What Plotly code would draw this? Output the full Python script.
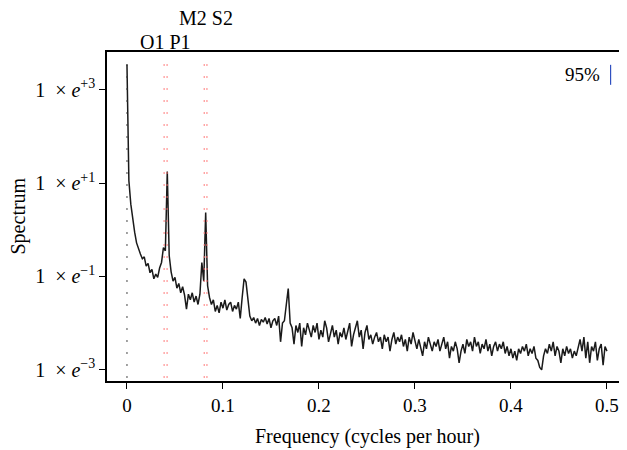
import numpy as np
import plotly.graph_objects as go

# frequency grid (cycles per hour)
freq = np.round(np.arange(0, 0.5001, 0.002), 4)

# log10 of spectrum values
log_spec = [
    3.54, 1.05, 0.55, 0.2, -0.05, -0.28, -0.42, -0.52, -0.62, -0.58,
    -0.78, -0.72, -0.92, -0.85, -1.05, -0.95, -1.02, -0.82, -0.7, -0.38,
    -0.45, 1.25, -0.55, -0.9, -1.1, -1.02, -1.25, -1.15, -1.35, -1.22,
    -1.4, -1.7, -1.38, -1.5, -1.35, -1.55, -1.42, -1.6, -1.38, -0.7,
    -1.1, 0.37, -1.2, -1.45, -1.6, -1.5, -1.75, -1.62, -1.78, -1.55,
    -1.68, -1.5, -1.72, -1.6, -1.55, -1.75, -1.62, -1.7, -1.55, -1.9,
    -1.45, -1.05, -1.12, -1.5, -1.85, -1.95, -1.88, -2.0, -1.9, -2.05,
    -1.92, -1.98, -1.88, -2.02, -1.9, -2.1, -1.95, -1.9, -2.05, -1.85,
    -2.4, -2.0, -1.95, -1.6, -1.26, -2.0, -2.1, -2.45, -2.05, -2.2,
    -2.0, -2.5, -2.1, -2.25, -2.0, -2.15, -2.3, -2.05, -2.2, -2.0,
    -2.35, -2.15, -2.3, -1.95, -2.1, -2.4, -2.2, -2.05, -2.3, -2.15,
    -2.45, -2.2, -2.3, -2.1, -2.35, -2.2, -2.0, -2.5, -2.25, -2.1,
    -1.95, -2.3, -2.15, -2.55, -2.2, -2.05, -2.35, -2.25, -2.45, -2.3,
    -2.2, -2.4, -2.3, -2.55, -2.25, -2.4, -2.3, -2.6, -2.35, -2.2,
    -2.45, -2.3, -2.4, -2.25, -2.5, -2.35, -2.6, -2.3, -2.45, -2.2,
    -2.4, -2.55, -2.35, -2.5, -2.7, -2.4, -2.55, -2.3, -2.45, -2.6,
    -2.4, -2.5, -2.35, -2.6, -2.45, -2.3, -2.55, -2.4, -2.75, -2.5,
    -2.6, -2.4, -2.55, -2.85, -2.6, -2.45, -2.65, -2.35, -2.5, -2.4,
    -2.6, -2.3, -2.5, -2.4, -2.65, -2.45, -2.55, -2.35, -2.6, -2.45,
    -2.7, -2.5, -2.4, -2.6, -2.45, -2.55, -2.4, -2.65, -2.5, -2.7,
    -2.55, -2.75, -2.6, -2.8, -2.55, -2.65, -2.5, -2.6, -2.45, -2.7,
    -2.55, -2.65, -2.5, -2.75, -2.8, -2.95, -3.0, -2.7, -2.55, -2.65,
    -2.45, -2.6, -2.4, -2.7, -2.5, -2.6, -2.85, -2.55, -2.7, -2.5,
    -2.65, -2.55, -2.75, -2.6, -2.7, -2.5, -2.35, -2.6, -2.3, -2.75,
    -2.4, -2.85, -2.5, -2.6, -2.4, -2.8, -2.55, -2.45, -2.9, -2.5,
    -2.6,
]
spectrum = [10 ** v for v in log_spec]

# tidal constituent frequencies (cph)
const_freq = [0.0387, 0.0418, 0.0805, 0.0833]
zero_line = [0.0]

# 95% confidence bar
ci_x = [0.5038, 0.5038]
ci_y = [10 ** 3.535, 10 ** 3.107]

tick_vals = [1e3, 1e1, 1e-1, 1e-3]
tick_exp = ["+3", "+1", "−1", "−3"]
tick_text = ["1&nbsp;&nbsp;×&nbsp;<i>e</i><sup>%s</sup>" % e for e in tick_exp]
x_ticks = [0, 0.1, 0.2, 0.3, 0.4, 0.5]
x_ticktext = ["0", "0.1", "0.2", "0.3", "0.4", "0.5"]

FONT = "Liberation Serif, Times New Roman, serif"

fig = go.Figure()
fig.add_trace(go.Scatter(x=freq, y=spectrum, mode="lines",
                         line=dict(color="#1a1a1a", width=1.5),
                         showlegend=False, hoverinfo="skip"))
fig.add_trace(go.Scatter(x=ci_x, y=ci_y, mode="lines",
                         line=dict(color="#3050c0", width=1.2),
                         showlegend=False, hoverinfo="skip"))

for f in zero_line:
    fig.add_shape(type="line", xref="x", yref="paper", x0=f, x1=f, y0=0.01, y1=0.99,
                  line=dict(color="#333333", width=1.2, dash="1.5px,10.5px"))
for f in const_freq:
    fig.add_shape(type="line", xref="x", yref="paper", x0=f, x1=f, y0=0.01, y1=0.99,
                  line=dict(color="#ff6f6f", width=1.2, dash="1.5px,10.5px"))

fig.add_annotation(x=(const_freq[0] + const_freq[1]) / 2, y=1.0, xref="x", yref="paper",
                   text="O1 P1", showarrow=False, yanchor="middle", yshift=10,
                   font=dict(family=FONT, size=20, color="black"))
fig.add_annotation(x=(const_freq[2] + const_freq[3]) / 2, y=1.0, xref="x", yref="paper",
                   text="M2 S2", showarrow=False, yanchor="middle", yshift=34,
                   font=dict(family=FONT, size=20, color="black"))
fig.add_annotation(x=0.4945, y=3.33, xref="x", yref="y",
                   text="95%", showarrow=False, xanchor="right", yanchor="middle",
                   font=dict(family=FONT, size=19, color="black"))
# axis titles
fig.add_annotation(x=0.5, y=0, xref="paper", yref="paper", yshift=-55, yanchor="middle",
                   text="Frequency (cycles per hour)", showarrow=False,
                   font=dict(family=FONT, size=20, color="black"))
fig.add_annotation(x=0, y=0.5, xref="paper", yref="paper", xshift=-89,
                   text="Spectrum", showarrow=False, textangle=-90,
                   xanchor="center", yanchor="middle",
                   font=dict(family=FONT, size=20, color="black"))

# the page adds an 8 px body margin at top/left, so the figure is sized to fit
fig.update_layout(
    width=619, height=442,
    margin=dict(l=99, r=0, t=44, b=69, autoexpand=False),
    paper_bgcolor="white", plot_bgcolor="white",
    font=dict(family=FONT, size=19, color="black"),
    xaxis=dict(range=[-0.0208, 0.5209], tickvals=x_ticks, ticktext=x_ticktext,
               ticks="outside", ticklen=6, tickwidth=1.2, tickcolor="black",
               showline=True, linecolor="black", linewidth=1.5, mirror=True,
               showgrid=False, zeroline=False, automargin=False,
               tickfont=dict(family=FONT, size=19, color="black")),
    yaxis=dict(type="log", range=[-3.24, 3.81], tickvals=tick_vals, ticktext=tick_text,
               ticks="outside", ticklen=6, tickwidth=1.2, tickcolor="black",
               showline=True, linecolor="black", linewidth=1.5,
               showgrid=False, zeroline=False, automargin=False,
               tickfont=dict(family=FONT, size=20, color="black")),
)

fig.write_html("out.html")
